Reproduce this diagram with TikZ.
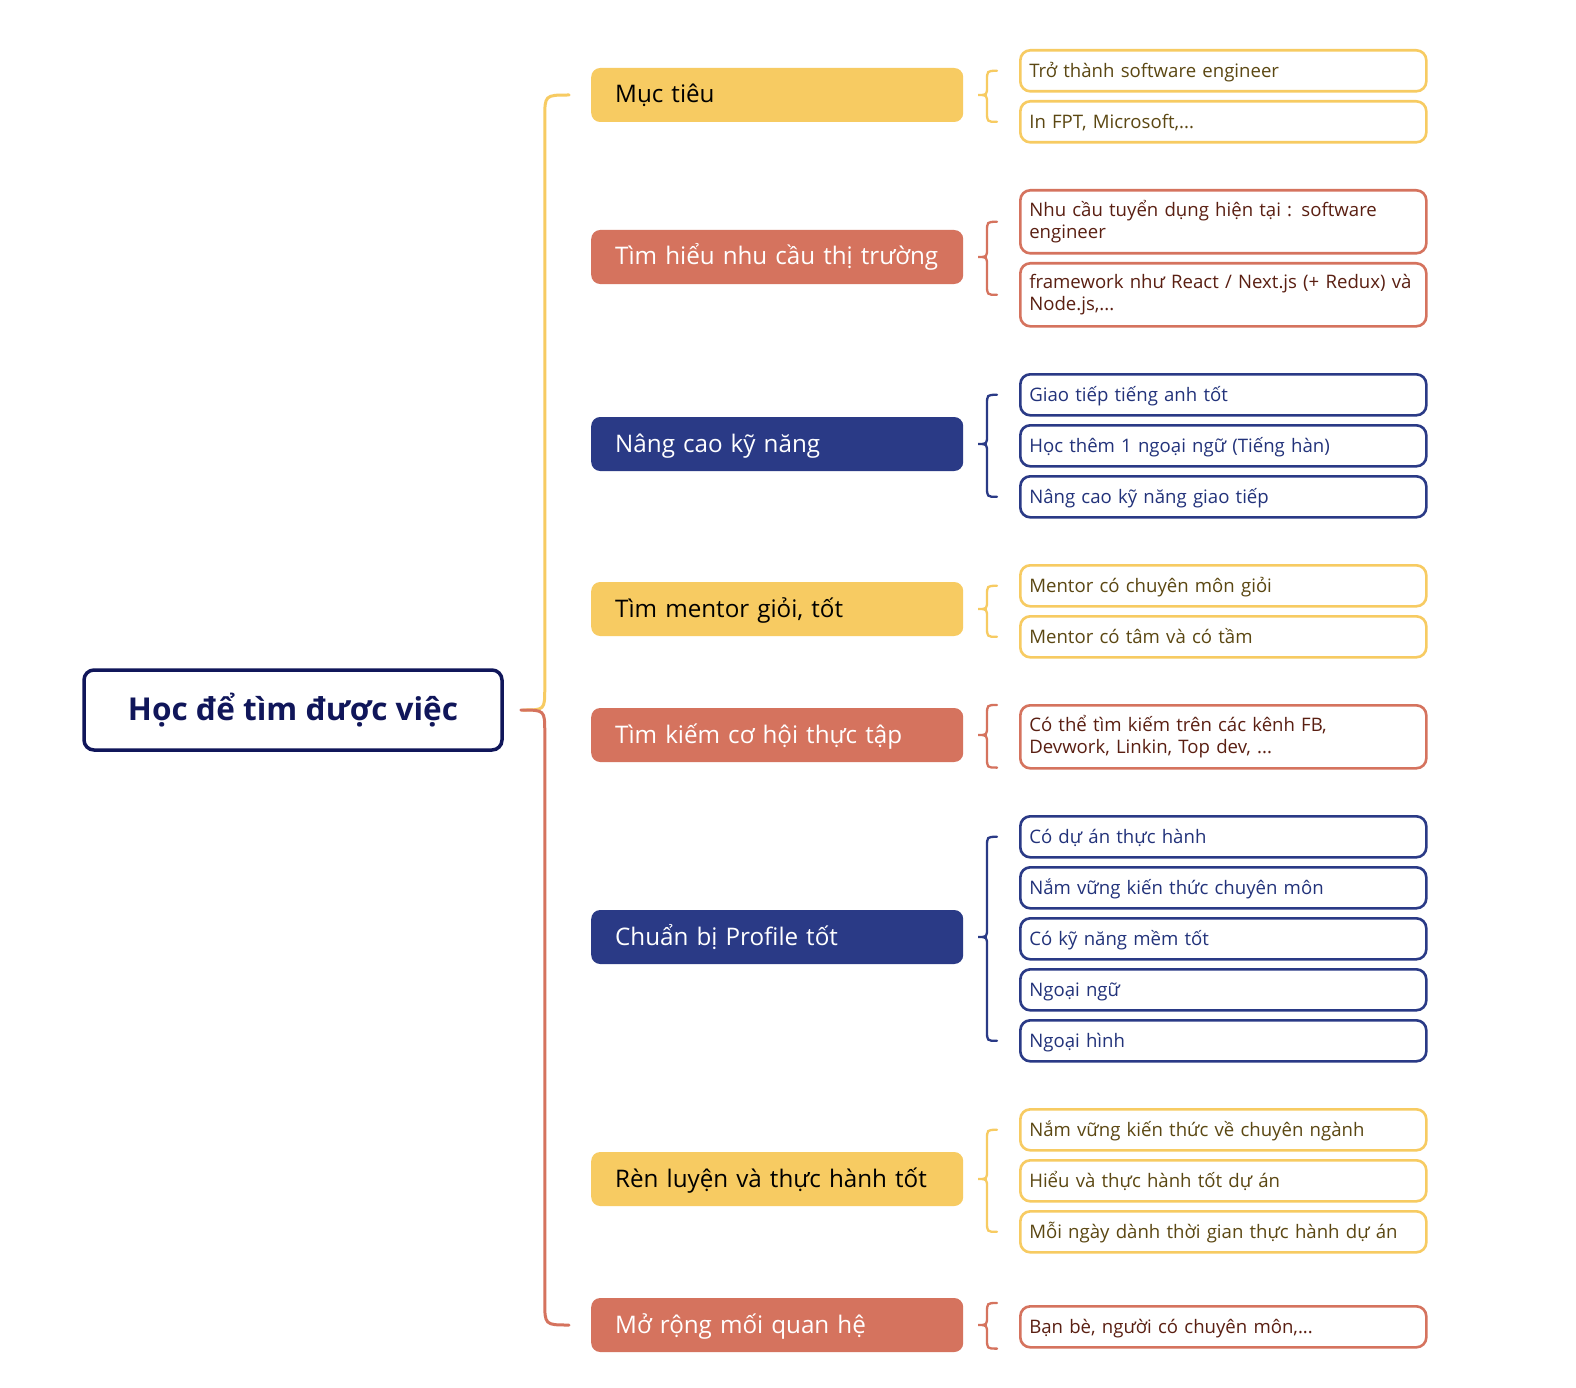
\documentclass[tikz,border=0pt]{standalone}
\usepackage{fontspec}
\setmainfont{Open Sans}
\usetikzlibrary{calc}
\definecolor{yel}{HTML}{F7CB62}
\definecolor{red}{HTML}{D5735E}
\definecolor{navy}{HTML}{2A3A86}
\definecolor{rootc}{HTML}{10165A}
\definecolor{yeltxt}{HTML}{5B4712}
\definecolor{redtxt}{HTML}{5A1F12}
\definecolor{navytxt}{HTML}{22327A}
\tikzset{
  mainbox/.style={draw=none, rounded corners=9pt, minimum height=54pt, text width=324pt, inner xsep=24pt, inner ysep=0pt, align=left, anchor=west, text height=21pt, text depth=5pt, font=\fontsize{24.2}{29}\selectfont},
  myel/.style={mainbox, fill=yel, text=black},
  mred/.style={mainbox, fill=red, text=white},
  mnavy/.style={mainbox, fill=navy, text=white},
  childbox/.style={rounded corners=10pt, line width=2.6pt, fill=white, minimum height=41pt, text width=388pt, inner xsep=9pt, inner ysep=0pt, align=left, anchor=north west, font=\fontsize{18.6}{22}\selectfont},
  one/.style={text height=17pt, text depth=4pt},
  cyel/.style={childbox, draw=yel, text=yeltxt},
  cred/.style={childbox, draw=red, text=redtxt},
  cnavy/.style={childbox, draw=navy, text=navytxt},
  bracestyle/.style={line width=2.3pt, line cap=round},
  trunk/.style={line width=3pt, line cap=round},
}
\newcommand\grp[4]{%
  \draw[bracestyle,#1] let \p1=(#2), \p2=(#3.east), \p3=(#4) in
    (\x1-22pt,\y1) .. controls (\x1-32pt,\y1) .. (\x1-32pt,\y1-10pt)
    -- (\x1-32pt,\y2+9pt) .. controls (\x1-32pt,\y2) .. (\x1-41pt,\y2)
    .. controls (\x1-32pt,\y2) .. (\x1-32pt,\y2-9pt)
    -- (\x1-32pt,\y3+10pt) .. controls (\x1-32pt,\y3) .. (\x1-22pt,\y3);
}
\begin{document}
\begin{tikzpicture}[x=1pt,y=-1pt]
\useasboundingbox (0,0) rectangle (1576,1388);
\fill[white] (0,0) rectangle (1576,1388);

% root
\node[draw=rootc, line width=3.5pt, rounded corners=10pt, minimum width=418pt, minimum height=80pt, text=rootc, font=\fontsize{31.5}{36}\selectfont\bfseries] (root) at (293,710) {Học để tìm được việc};

% main nodes
\node[myel]  (m1) at (591,95)   {Mục tiêu};
\node[mred]  (m2) at (591,257)  {Tìm hiểu nhu cầu thị trường};
\node[mnavy] (m3) at (591,444)  {Nâng cao kỹ năng};
\node[myel]  (m4) at (591,609)  {Tìm mentor giỏi, tốt};
\node[mred]  (m5) at (591,735)  {Tìm kiếm cơ hội thực tập};
\node[mnavy] (m6) at (591,937)  {Chuẩn bị Profile tốt};
\node[myel]  (m7) at (591,1179) {Rèn luyện và thực hành tốt};
\node[mred]  (m8) at (591,1325) {Mở rộng mối quan hệ};

% trunk
\draw[trunk,yel] let \p1=([xshift=19pt]root.east), \p2=([xshift=-22pt]m1.west) in
  (\p1) .. controls (\x1+22pt,\y1) .. (\x1+22pt,\y1+22pt)
  -- (\x1+22pt,\y2-24pt) .. controls (\x1+22pt,\y2) .. (\p2);
\draw[trunk,red] let \p1=([xshift=17pt]root.east), \p2=([xshift=-22pt]m8.west) in
  (\p1) .. controls (\x1+24pt,\y1) .. (\x1+24pt,\y1-22pt)
  -- (\x1+24pt,\y2+24pt) .. controls (\x1+24pt,\y2) .. (\p2);

% children: Muc tieu
\node[cyel,one] (c11) at (1019,49)  {Trở thành software engineer};
\node[cyel,one] (c12) at (1019,100) {In FPT, Microsoft,...};
\grp{yel}{c11.west}{m1}{c12.west}

% Tim hieu
\node[cred, minimum height=63pt] (c21) at (1019,189) {Nhu cầu tuyển dụng hiện tại : software\\engineer};
\node[cred, minimum height=63pt] (c22) at (1019,262) {framework như React / Next.js (+ Redux) và\\Node.js,...};
\grp{red}{c21.west}{m2}{c22.west}

% Nang cao
\node[cnavy,one] (c31) at (1019,373) {Giao tiếp tiếng anh tốt};
\node[cnavy,one] (c32) at (1019,424) {Học thêm 1 ngoại ngữ (Tiếng hàn)};
\node[cnavy,one] (c33) at (1019,475) {Nâng cao kỹ năng giao tiếp};
\grp{navy}{c31.west}{m3}{c33.west}

% Mentor
\node[cyel,one] (c41) at (1019,564) {Mentor có chuyên môn giỏi};
\node[cyel,one] (c42) at (1019,615) {Mentor có tâm và có tầm};
\grp{yel}{c41.west}{m4}{c42.west}

% Tim kiem
\node[cred, minimum height=63pt] (c51) at (1019,704) {Có thể tìm kiếm trên các kênh FB,\\Devwork, Linkin, Top dev, ...};
\grp{red}{[yshift=-1pt]c51.north west}{m5}{[yshift=2pt]c51.south west}

% Chuan bi
\node[cnavy,one] (c61) at (1019,815)  {Có dự án thực hành};
\node[cnavy,one] (c62) at (1019,866)  {Nắm vững kiến thức chuyên môn};
\node[cnavy,one] (c63) at (1019,917)  {Có kỹ năng mềm tốt};
\node[cnavy,one] (c64) at (1019,968)  {Ngoại ngữ};
\node[cnavy,one] (c65) at (1019,1019) {Ngoại hình};
\grp{navy}{c61.west}{m6}{c65.west}

% Ren luyen
\node[cyel,one] (c71) at (1019,1108) {Nắm vững kiến thức về chuyên ngành};
\node[cyel,one] (c72) at (1019,1159) {Hiểu và thực hành tốt dự án};
\node[cyel,one] (c73) at (1019,1210) {Mỗi ngày dành thời gian thực hành dự án};
\grp{yel}{c71.west}{m7}{c73.west}

% Mo rong
\node[cred,one] (c81) at (1019,1305) {Bạn bè, người có chuyên môn,...};
\grp{red}{[yshift=2pt]c81.north west}{m8}{c81.south west}
\end{tikzpicture}
\end{document}
